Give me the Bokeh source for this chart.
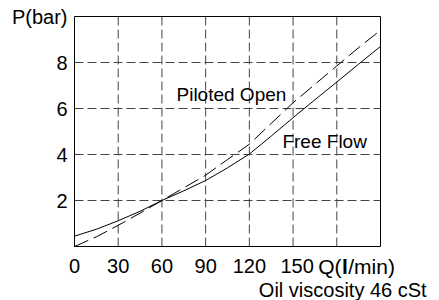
from bokeh.plotting import figure
from bokeh.models import Range1d
from bokeh.core.properties import value
from bokeh.embed import file_html
from bokeh.resources import INLINE

# Data
q = [0, 15, 30, 45, 60, 75, 90, 105, 120, 135, 150, 165, 180, 195, 210]
free_flow = [0.45, 0.75, 1.12, 1.53, 2.0, 2.42, 2.87, 3.42, 4.02, 4.8, 5.6, 6.38, 7.15, 7.93, 8.7]
piloted_open = [0.0, 0.42, 0.92, 1.45, 2.0, 2.55, 3.1, 3.78, 4.45, 5.35, 6.25, 7.05, 7.85, 8.65, 9.4]
x_ticks = [0, 30, 60, 90, 120, 150]
x_tick_labels = ["0", "30", "60", "90", "120", "150"]
x_grid = [30, 60, 90, 120, 150, 180]
y_ticks = [2, 4, 6, 8, 10]
y_tick_labels = ["2", "4", "6", "8", "P(bar)"]
y_grid = [2, 4, 6, 8]
x_min, x_max = 0, 210
y_min, y_max = 0, 10
q_unit_tick = 180

FONT = value("Liberation Sans")

# frame: Q 0..210 -> page x 74..380 ; P 0..10 -> page y 246..16
sx = 306 / 210.0
sy = 23.0
W, H = 439, 300
p = figure(width=W, height=H, output_backend="svg", toolbar_location=None,
           x_range=Range1d((0 - 74) / sx, (W - 74) / sx),
           y_range=Range1d((246 - H) / sy, (246 - 0) / sy),
           x_axis_location=None, y_axis_location=None,
           min_border=0)
p.outline_line_color = None
p.grid.visible = False
p.background_fill_color = "white"
p.border_fill_color = "white"

# dashed grid
p.segment(x0=x_grid, y0=[y_min] * len(x_grid), x1=x_grid, y1=[y_max] * len(x_grid),
          line_color="#444444", line_width=1, line_dash="9 4")
p.segment(x0=[x_min] * len(y_grid), y0=y_grid, x1=[x_max] * len(y_grid), y1=y_grid,
          line_color="#444444", line_width=1, line_dash="9 4")

# frame box
p.quad(left=[x_min], right=[x_max], bottom=[y_min], top=[y_max],
       fill_color=None, line_color="black", line_width=1)

# curves
p.line(q, free_flow, line_color="black", line_width=1)
p.line(q, piloted_open, line_color="black", line_width=1, line_dash="15 6")

# tick labels
p.text(x=x_ticks, y=[y_min] * len(x_ticks), text=x_tick_labels, text_font=FONT,
       text_font_size="20px", text_color="black", text_align="center",
       text_baseline="middle", y_offset=19.5, x_offset=[0, 0, 0, 0, 0, 4])
p.text(x=[x_min] * len(y_ticks), y=y_ticks, text=y_tick_labels, text_font=FONT,
       text_font_size="20px", text_color="black", text_align="right",
       text_baseline="middle", x_offset=-7)

# axis title Q(l/min) with a bold l
p.text(x=[q_unit_tick], y=[y_min], text=["Q("], text_font=FONT, text_font_size="21px",
       text_color="black", text_align="left", text_baseline="middle",
       x_offset=-18.5, y_offset=19.5)
p.text(x=[q_unit_tick], y=[y_min], text=["l"], text_font=FONT, text_font_size="21px",
       text_font_style="bold", text_color="black", text_align="left",
       text_baseline="middle", x_offset=5.2, y_offset=19.5)
p.text(x=[q_unit_tick], y=[y_min], text=["/min)"], text_font=FONT,
       text_font_size="21px", text_color="black", text_align="left",
       text_baseline="middle", x_offset=11.5, y_offset=19.5)
p.text(x=[120], y=[y_min], text=["Oil viscosity 46 cSt"], text_font=FONT,
       text_font_size="20px", text_color="black", text_align="left",
       text_baseline="middle", x_offset=9.5, y_offset=43)

# curve labels
p.text(x=[70], y=[6.63], text=["Piloted Open"], text_font=FONT, text_font_size="19px",
       text_color="black", text_align="left", text_baseline="middle")
p.text(x=[142.7], y=[4.56], text=["Free Flow"], text_font=FONT, text_font_size="19px",
       text_color="black", text_align="left", text_baseline="middle")

open("out.html", "w").write(file_html(p, INLINE))
